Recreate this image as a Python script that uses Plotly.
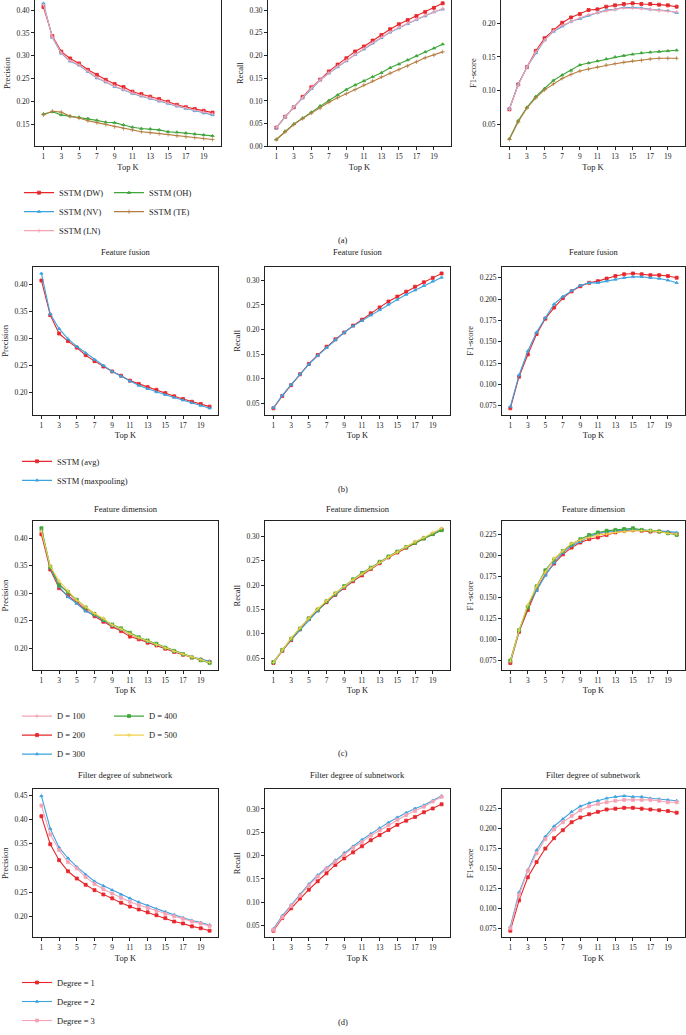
import plotly.graph_objects as go
from plotly.subplots import make_subplots

W, H = 686, 1035
K = list(range(1, 21))
XTICKS = list(range(1, 20, 2))

# ---------------- (a) ----------------
a_names = ["SSTM (DW)", "SSTM (NV)", "SSTM (LN)", "SSTM (OH)", "SSTM (TE)"]
a_prec_DW = [0.407,0.343,0.309,0.294,0.283,0.269,0.258,0.247,0.238,0.231,0.221,0.216,0.210,0.205,0.199,0.192,0.187,0.183,0.179,0.175]
a_prec_NV = [0.415,0.340,0.305,0.288,0.279,0.265,0.251,0.242,0.232,0.225,0.217,0.211,0.206,0.200,0.195,0.189,0.184,0.179,0.174,0.170]
a_prec_LN = [0.412,0.341,0.306,0.289,0.280,0.266,0.252,0.243,0.233,0.226,0.218,0.212,0.207,0.201,0.196,0.190,0.185,0.180,0.176,0.172]
a_prec_OH = [0.172,0.177,0.170,0.167,0.165,0.162,0.158,0.154,0.153,0.148,0.143,0.140,0.139,0.137,0.133,0.132,0.130,0.128,0.126,0.124]
a_prec_TE = [0.170,0.178,0.176,0.167,0.163,0.157,0.153,0.149,0.144,0.140,0.137,0.133,0.131,0.129,0.127,0.124,0.122,0.120,0.118,0.116]

a_rec_DW = [0.041,0.065,0.086,0.109,0.130,0.147,0.165,0.180,0.194,0.209,0.220,0.233,0.245,0.258,0.269,0.278,0.287,0.296,0.305,0.315]
a_rec_NV = [0.041,0.065,0.087,0.106,0.127,0.146,0.161,0.175,0.188,0.202,0.214,0.227,0.239,0.251,0.261,0.270,0.279,0.287,0.296,0.302]
a_rec_LN = [0.041,0.065,0.087,0.107,0.128,0.146,0.162,0.176,0.189,0.203,0.215,0.228,0.240,0.252,0.262,0.271,0.280,0.288,0.296,0.303]
a_rec_OH = [0.015,0.033,0.049,0.062,0.075,0.089,0.101,0.113,0.125,0.135,0.144,0.153,0.162,0.173,0.181,0.190,0.199,0.208,0.216,0.225]
a_rec_TE = [0.015,0.032,0.048,0.061,0.073,0.084,0.097,0.107,0.116,0.125,0.135,0.144,0.153,0.161,0.169,0.177,0.186,0.195,0.201,0.208]

a_f1_DW = [0.072,0.109,0.135,0.159,0.178,0.190,0.201,0.209,0.214,0.220,0.221,0.225,0.227,0.229,0.230,0.229,0.229,0.228,0.227,0.225]
a_f1_NV = [0.073,0.109,0.135,0.156,0.175,0.188,0.196,0.203,0.207,0.212,0.216,0.220,0.221,0.224,0.224,0.223,0.221,0.220,0.219,0.216]
a_f1_LN = [0.072,0.108,0.135,0.157,0.175,0.189,0.197,0.203,0.208,0.213,0.216,0.219,0.221,0.223,0.223,0.222,0.221,0.219,0.218,0.217]
a_f1_OH = [0.028,0.055,0.075,0.091,0.103,0.115,0.123,0.130,0.138,0.141,0.144,0.147,0.150,0.152,0.154,0.156,0.157,0.158,0.159,0.160]
a_f1_TE = [0.027,0.053,0.074,0.089,0.101,0.110,0.118,0.124,0.129,0.132,0.135,0.138,0.140,0.142,0.144,0.145,0.147,0.148,0.148,0.148]

# ---------------- (b) ----------------
b_names = ["SSTM (avg)", "SSTM (maxpooling)"]
b_prec_avg = [0.407,0.343,0.309,0.295,0.283,0.269,0.258,0.248,0.239,0.231,0.222,0.216,0.210,0.205,0.199,0.193,0.188,0.183,0.179,0.174]
b_prec_max = [0.420,0.345,0.318,0.299,0.285,0.273,0.261,0.250,0.239,0.230,0.221,0.213,0.207,0.201,0.196,0.191,0.186,0.181,0.176,0.171]
b_rec_avg = [0.040,0.065,0.087,0.109,0.130,0.148,0.165,0.180,0.194,0.208,0.220,0.233,0.245,0.257,0.267,0.277,0.287,0.296,0.305,0.314]
b_rec_max = [0.041,0.066,0.088,0.109,0.129,0.147,0.163,0.179,0.194,0.207,0.218,0.229,0.240,0.251,0.261,0.271,0.280,0.289,0.298,0.306]
b_f1_avg = [0.072,0.109,0.135,0.159,0.177,0.190,0.201,0.209,0.215,0.219,0.221,0.224,0.227,0.229,0.230,0.229,0.228,0.228,0.227,0.225]
b_f1_max = [0.074,0.111,0.139,0.161,0.178,0.194,0.203,0.210,0.216,0.219,0.219,0.221,0.223,0.225,0.226,0.226,0.225,0.224,0.222,0.219]

# ---------------- (c) ----------------
c_names = ["D = 100", "D = 200", "D = 300", "D = 400", "D = 500"]
c_prec_100 = [0.410,0.347,0.318,0.300,0.285,0.272,0.262,0.251,0.241,0.234,0.225,0.218,0.212,0.206,0.200,0.195,0.189,0.184,0.180,0.176]
c_prec_200 = [0.407,0.343,0.309,0.295,0.283,0.269,0.258,0.248,0.239,0.231,0.221,0.216,0.210,0.205,0.199,0.193,0.188,0.183,0.179,0.175]
c_prec_300 = [0.415,0.346,0.312,0.293,0.281,0.267,0.260,0.250,0.241,0.234,0.226,0.219,0.212,0.206,0.201,0.194,0.189,0.184,0.180,0.176]
c_prec_400 = [0.418,0.348,0.315,0.302,0.288,0.274,0.262,0.252,0.243,0.236,0.228,0.220,0.214,0.208,0.201,0.195,0.189,0.183,0.178,0.173]
c_prec_500 = [0.413,0.349,0.322,0.304,0.287,0.275,0.263,0.254,0.242,0.235,0.226,0.219,0.213,0.206,0.200,0.194,0.189,0.184,0.179,0.174]
c_rec_100 = [0.041,0.066,0.089,0.110,0.131,0.150,0.167,0.182,0.196,0.210,0.222,0.234,0.247,0.258,0.268,0.278,0.288,0.297,0.306,0.315]
c_rec_200 = [0.040,0.065,0.087,0.109,0.130,0.148,0.165,0.180,0.194,0.208,0.220,0.233,0.245,0.257,0.267,0.277,0.287,0.296,0.305,0.314]
c_rec_300 = [0.041,0.066,0.088,0.108,0.129,0.147,0.166,0.181,0.196,0.210,0.223,0.235,0.247,0.258,0.269,0.279,0.288,0.297,0.306,0.315]
c_rec_400 = [0.042,0.067,0.090,0.111,0.132,0.150,0.167,0.183,0.198,0.212,0.225,0.236,0.248,0.259,0.269,0.278,0.287,0.296,0.305,0.313]
c_rec_500 = [0.041,0.067,0.091,0.112,0.132,0.151,0.168,0.184,0.197,0.211,0.223,0.235,0.247,0.258,0.268,0.279,0.289,0.298,0.308,0.317]
c_f1_100 = [0.073,0.109,0.139,0.162,0.180,0.194,0.204,0.212,0.217,0.222,0.225,0.227,0.228,0.229,0.229,0.229,0.228,0.228,0.227,0.225]
c_f1_200 = [0.072,0.109,0.135,0.159,0.177,0.190,0.201,0.209,0.215,0.219,0.221,0.224,0.227,0.229,0.230,0.229,0.228,0.228,0.227,0.225]
c_f1_300 = [0.074,0.110,0.140,0.158,0.176,0.191,0.203,0.211,0.216,0.222,0.226,0.228,0.229,0.230,0.230,0.230,0.229,0.229,0.228,0.227]
c_f1_400 = [0.075,0.111,0.138,0.163,0.182,0.195,0.205,0.213,0.219,0.224,0.227,0.229,0.230,0.231,0.232,0.230,0.229,0.228,0.226,0.224]
c_f1_500 = [0.074,0.111,0.141,0.163,0.180,0.196,0.205,0.214,0.218,0.221,0.224,0.225,0.227,0.228,0.229,0.229,0.229,0.228,0.226,0.225]

# ---------------- (d) ----------------
d_names = ["Degree = 1", "Degree = 2", "Degree = 3"]
d_prec_1 = [0.407,0.349,0.316,0.293,0.278,0.265,0.254,0.245,0.237,0.228,0.220,0.214,0.208,0.202,0.196,0.189,0.185,0.179,0.175,0.170]
d_prec_2 = [0.449,0.381,0.342,0.320,0.302,0.286,0.272,0.263,0.254,0.245,0.237,0.229,0.222,0.215,0.209,0.203,0.197,0.191,0.187,0.182]
d_prec_3 = [0.429,0.369,0.337,0.312,0.299,0.281,0.267,0.256,0.247,0.238,0.230,0.223,0.217,0.211,0.205,0.200,0.195,0.189,0.185,0.180]
d_rec_1 = [0.039,0.066,0.087,0.108,0.127,0.145,0.162,0.180,0.194,0.207,0.220,0.233,0.244,0.255,0.266,0.275,0.283,0.293,0.301,0.310]
d_rec_2 = [0.043,0.071,0.094,0.117,0.139,0.158,0.174,0.190,0.206,0.220,0.234,0.247,0.259,0.271,0.282,0.292,0.301,0.308,0.318,0.328]
d_rec_3 = [0.041,0.068,0.092,0.114,0.136,0.155,0.172,0.187,0.202,0.217,0.229,0.243,0.254,0.265,0.277,0.287,0.296,0.305,0.316,0.326]
d_f1_1 = [0.072,0.110,0.139,0.158,0.175,0.188,0.198,0.208,0.214,0.218,0.221,0.224,0.225,0.226,0.226,0.225,0.224,0.223,0.222,0.220]
d_f1_2 = [0.077,0.120,0.148,0.173,0.190,0.203,0.212,0.221,0.228,0.232,0.235,0.238,0.240,0.241,0.240,0.240,0.238,0.237,0.236,0.235]
d_f1_3 = [0.075,0.117,0.147,0.169,0.187,0.199,0.208,0.216,0.223,0.228,0.231,0.233,0.235,0.236,0.236,0.236,0.236,0.235,0.233,0.233]

# ---------------- styles ----------------
RED, BLUE, PINK, GREEN, BROWN, YELLOW = "#e8262b", "#3ba3e0", "#f5a3b5", "#3ea63a", "#b57d3f", "#f0d048"
FONT = "Liberation Serif, Times New Roman, serif"

rows = [
    dict(names=a_names, colors=[RED, BLUE, PINK, GREEN, BROWN],
         symbols=["square", "triangle-up", "cross-thin", "triangle-up", "cross-thin"],
         legends=["legend", "legend", "legend", "legend2", "legend2"],
         data=[[a_prec_DW, a_prec_NV, a_prec_LN, a_prec_OH, a_prec_TE],
               [a_rec_DW, a_rec_NV, a_rec_LN, a_rec_OH, a_rec_TE],
               [a_f1_DW, a_f1_NV, a_f1_LN, a_f1_OH, a_f1_TE]],
         title=None, label="(a)"),
    dict(names=b_names, colors=[RED, BLUE], symbols=["square", "triangle-up"],
         legends=["legend3", "legend3"],
         data=[[b_prec_avg, b_prec_max], [b_rec_avg, b_rec_max], [b_f1_avg, b_f1_max]],
         title="Feature fusion", label="(b)"),
    dict(names=c_names, colors=[PINK, RED, BLUE, GREEN, YELLOW],
         symbols=["cross-thin", "square", "triangle-up", "square", "cross-thin"],
         legends=["legend4", "legend4", "legend4", "legend5", "legend5"],
         data=[[c_prec_100, c_prec_200, c_prec_300, c_prec_400, c_prec_500],
               [c_rec_100, c_rec_200, c_rec_300, c_rec_400, c_rec_500],
               [c_f1_100, c_f1_200, c_f1_300, c_f1_400, c_f1_500]],
         title="Feature dimension", label="(c)"),
    dict(names=d_names, colors=[RED, BLUE, PINK], symbols=["square", "triangle-up", "square"],
         legends=["legend6", "legend6", "legend6"],
         data=[[d_prec_1, d_prec_2, d_prec_3], [d_rec_1, d_rec_2, d_rec_3], [d_f1_1, d_f1_2, d_f1_3]],
         title="Filter degree of subnetwork", label="(d)"),
]
YTITLES = ["Precision", "Recall", "F1-score"]

# layout geometry (pixels)
X_A = [(35, 221), (268, 451), (501, 685)]
X_B = [(33, 218), (265, 450), (502, 685)]
Y_ROWS = [(0, 147), (268, 417), (524, 673), (793, 942)]
TITLE_Y = [None, 253, 511, 779]
LABEL_Y = [241, 491, 757, 1027]
DTICK = [[0.05, 0.05, 0.05], [0.05, 0.05, 0.025], [0.05, 0.05, 0.025], [0.05, 0.05, 0.025]]
LEG_POS = {"legend": (19, 179), "legend2": (109, 179), "legend3": (17, 449),
           "legend4": (17, 705), "legend5": (109, 705), "legend6": (17, 973)}

fig = make_subplots(rows=4, cols=3)

annotations = []
for r, row in enumerate(rows):
    xs = X_A if r == 0 else X_B
    top, bot = Y_ROWS[r]
    for c in range(3):
        idx = r * 3 + c + 1
        series = row["data"][c]
        for s, vals in enumerate(series):
            fig.add_trace(go.Scatter(
                x=K, y=vals, mode="lines+markers", name=row["names"][s],
                line=dict(color=row["colors"][s], width=1.1),
                marker=dict(symbol=row["symbols"][s], size=3, color=row["colors"][s],
                            line=dict(color=row["colors"][s], width=0.8)),
                legend=row["legends"][s], showlegend=(c == 0),
            ), row=r + 1, col=c + 1)
        lo = min(min(v) for v in series)
        hi = max(max(v) for v in series)
        pad = 0.05 * (hi - lo)
        ylo, yhi = lo - pad, hi + pad
        if r == 0:
            yhi = ylo + (yhi - ylo) * 147 / 150.5
        dt = DTICK[r][c]
        xk = "xaxis" if idx == 1 else f"xaxis{idx}"
        yk = "yaxis" if idx == 1 else f"yaxis{idx}"
        fig.layout[xk].update(
            domain=[xs[c][0] / W, xs[c][1] / W], range=[0.05, 20.95],
            tickmode="array", tickvals=XTICKS, ticks="outside", ticklen=3, tickwidth=0.8,
            tickcolor="#222", showline=True, linecolor="#222", linewidth=1,
            mirror=(r != 0), showgrid=False, zeroline=False,
            tickfont=dict(family=FONT, size=7.5, color="#222"),
            title=dict(text="Top K", font=dict(family=FONT, size=8.5, color="#222"), standoff=3),
            automargin=False)
        fig.layout[yk].update(
            domain=[1 - bot / H, 1 - top / H], range=[ylo, yhi],
            tick0=0, dtick=dt, tickformat=".2f" if dt == 0.05 else ".3f",
            ticks="outside", ticklen=3, tickwidth=0.8, tickcolor="#222",
            showline=True, linecolor="#222", linewidth=1, mirror=True,
            showgrid=False, zeroline=False,
            tickfont=dict(family=FONT, size=7.5, color="#222"),
            title=dict(text=YTITLES[c], font=dict(family=FONT, size=8.5, color="#222"), standoff=4),
            automargin=False)
        if row["title"]:
            annotations.append(dict(
                text=row["title"], x=(xs[c][0] + xs[c][1]) / 2 / W, y=1 - TITLE_Y[r] / H,
                xref="paper", yref="paper", xanchor="center", yanchor="middle",
                showarrow=False, font=dict(family=FONT, size=8.5, color="#222")))
    annotations.append(dict(
        text=row["label"], x=343 / W, y=1 - LABEL_Y[r] / H, xref="paper", yref="paper",
        xanchor="center", yanchor="middle", showarrow=False,
        font=dict(family=FONT, size=8.5, color="#222")))

legend_style = dict(font=dict(family=FONT, size=8.5, color="#222"), bgcolor="rgba(0,0,0,0)",
                    xanchor="left", yanchor="top", itemwidth=30, tracegroupgap=0)
legs = {}
for name, (lx, ly) in LEG_POS.items():
    legs[name] = dict(x=lx / W, y=1 - ly / H, **legend_style)

fig.update_layout(
    width=W, height=H, margin=dict(l=0, r=0, t=0, b=0),
    paper_bgcolor="white", plot_bgcolor="white",
    font=dict(family=FONT, size=8.5, color="#222"),
    annotations=annotations, **legs,
)

fig.write_html("out.html", config={"displayModeBar": False},
               post_script="document.body.style.margin='0';")
